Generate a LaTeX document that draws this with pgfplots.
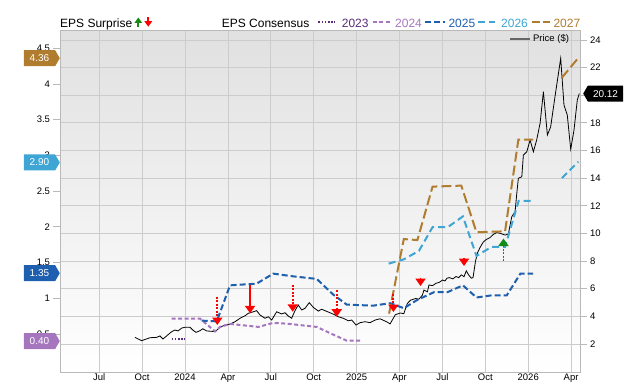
\documentclass[border=0pt]{standalone}
\usepackage{fontspec}
\setmainfont{Liberation Sans}
\usepackage{pgfplots}
\pgfplotsset{compat=1.18}
\usetikzlibrary{arrows.meta,shapes.symbols}
\definecolor{c23}{RGB}{88,44,120}
\definecolor{c24}{RGB}{165,118,190}
\definecolor{c25}{RGB}{30,95,175}
\definecolor{c26}{RGB}{62,165,212}
\definecolor{c27}{RGB}{176,124,46}
\definecolor{gridc}{RGB}{204,204,204}
\definecolor{axc}{RGB}{185,185,185}
\definecolor{upg}{RGB}{20,140,20}
\newcommand\tf{\fontsize{9.5}{11}\selectfont}
\newcommand\hf{\fontsize{12}{14}\selectfont}
\pgfplotsset{
  base/.style={at={(60pt,9.5pt)}, anchor=south west, scale only axis,
    width=520pt, height=341.8pt, xmin=3.26, xmax=39.62,
    /pgf/number format/assume math mode=true,
    tick label style={font=\tf, black},
    tick style={axc, line width=0.8pt}, major tick length=6.5pt, tick align=outside,
    axis line style={axc, line width=0.8pt}},
  pricelim/.style={ymin=-0.065, ymax=24.67},
  epslim/.style={ymin=-0.04, ymax=4.745},
}
\begin{document}
\begin{tikzpicture}[x=1pt,y=1pt]
\path[use as bounding box] (0,0) rectangle (640,382);
% ---------- price axis (right) ----------
\begin{axis}[base, pricelim,
  axis background/.style={top color=black!12, middle color=white, bottom color=white},
  ytick={2,4,...,24}, ytick pos=right, yticklabel pos=right,
  xtick={6,9,...,39}, xticklabels={Jul,Oct,2024,Apr,Jul,Oct,2025,Apr,Jul,Oct,2026,Apr},
  xtick pos=bottom, major x tick style={draw=none},
  xticklabel style={yshift=9pt},
  xmajorgrids, ymajorgrids, grid style={gridc, line width=0.8pt},
  legend style={draw=none, fill=none, at={(0.985,0.997)}, anchor=north east, font=\tf, inner sep=1pt},
  legend image code/.code={\draw[black!60, line width=1.5pt] (0pt,0pt) -- (20pt,0pt);},
]
\addplot[black, line width=0.8pt] table[x=m, y=p] {
m p
8.50 2.48
8.97 2.24
9.55 2.45
10.02 2.48
10.25 2.58
10.46 2.36
11.07 2.89
11.30 3.01
11.51 2.94
11.77 3.15
12.00 3.21
12.35 3.21
12.54 3.01
12.77 2.84
13.05 2.96
13.24 3.10
13.52 2.94
13.80 2.92
14.10 2.89
14.45 3.21
14.80 3.37
15.15 3.44
15.50 3.61
15.85 3.86
16.20 4.04
16.43 4.22
16.78 4.33
17.01 4.41
17.24 4.10
17.59 3.86
17.83 3.97
18.06 3.73
18.41 4.33
18.76 4.17
18.99 4.26
19.22 4.02
19.46 3.86
19.69 4.41
19.92 4.82
20.16 4.46
20.39 4.58
20.69 4.99
20.97 4.65
21.32 4.38
21.56 4.51
21.86 4.38
22.14 4.26
22.49 4.10
22.72 3.97
23.07 3.86
23.42 3.68
23.66 3.73
23.96 3.37
24.24 3.54
24.59 3.61
24.94 3.54
25.29 3.73
25.64 3.82
26.13 3.59
26.34 3.45
26.71 4.12
27.06 4.24
27.30 4.19
27.54 4.92
27.77 5.17
28.13 5.29
28.36 5.24
28.60 5.54
28.71 5.90
28.95 5.77
29.06 6.27
29.31 6.22
29.55 6.39
29.78 6.46
30.01 6.63
30.18 6.56
30.32 6.76
30.49 6.80
30.73 6.71
30.95 6.88
31.13 6.80
31.32 7.00
31.51 6.87
31.67 7.29
31.83 7.00
32.02 6.76
32.14 6.80
32.31 7.97
32.45 8.59
32.62 8.96
32.85 9.37
33.08 9.57
33.32 9.69
33.56 9.93
33.79 10.06
34.03 10.01
34.38 9.88
34.61 9.96
34.85 11.21
35.08 11.57
35.20 12.90
35.31 13.99
35.55 14.10
35.66 15.67
35.90 15.91
36.13 16.76
36.36 15.91
36.59 16.76
36.83 17.97
37.06 20.25
37.34 17.12
37.57 17.72
37.87 19.89
38.27 22.67
38.50 19.29
38.73 18.57
38.97 16.09
39.20 17.48
39.43 19.65
39.57 20.12
};
\addlegendentry{Price (\$)}
\end{axis}
% ---------- EPS axis (left) ----------
\begin{axis}[base, epslim, hide x axis, axis y line*=left, ytick pos=left,
  ytick={0.5,1,...,4.5}, clip=false]
\addplot[c23, line width=2pt, dash pattern=on 1.6pt off 1.6pt] table[x=m,y=e] {
m e
11.07 0.43
12.00 0.43
};
\addplot[c24, line width=2pt, dash pattern=on 4pt off 2.5pt] table[x=m,y=e] {
m e
11.07 0.714
13.05 0.714
14.10 0.536
14.45 0.598
15.15 0.640
16.78 0.606
17.13 0.598
18.17 0.654
19.11 0.644
21.21 0.598
22.37 0.490
23.31 0.406
24.24 0.406
};
\addplot[c25, line width=2pt, dash pattern=on 6pt off 3pt] table[x=m,y=e] {
m e
13.17 0.686
14.22 0.676
15.15 1.180
17.01 1.204
18.17 1.344
19.57 1.306
21.21 1.270
22.37 1.050
23.31 0.910
25.17 0.896
25.64 0.910
26.36 0.930
27.30 0.860
28.25 0.977
29.43 1.086
30.37 1.086
31.43 1.180
32.38 1.010
33.44 1.040
34.50 1.040
35.45 1.344
36.35 1.344
};
\addplot[c26, line width=2pt, dash pattern=on 7pt off 4pt] table[x=m,y=e] {
m e
26.24 1.484
27.30 1.544
28.36 1.663
29.31 1.994
30.37 1.994
31.43 2.145
32.38 1.592
33.44 1.719
34.38 1.719
35.33 2.363
36.35 2.363
};
\addplot[c26, line width=2pt, dash pattern=on 7pt off 4pt] table[x=m,y=e] {
m e
38.36 2.682
39.50 2.912
};
\addplot[c27, line width=2pt, dash pattern=on 10pt off 4pt] table[x=m,y=e] {
m e
26.27 0.784
27.30 1.828
28.25 1.814
29.31 2.562
31.32 2.576
32.38 1.924
34.38 1.936
35.31 3.220
36.35 3.220
};
\addplot[c27, line width=2pt, dash pattern=on 10pt off 4pt] table[x=m,y=e] {
m e
38.34 4.084
39.50 4.364
};
\tikzset{flag/.style={signal, signal to=east, signal pointer angle=120, text=white,
  font=\fontsize{10}{12}\selectfont, minimum height=16pt, minimum width=36pt, inner sep=1pt, anchor=east}}
\node[flag, fill=c27] at (axis cs:3.26,4.36) {4.36};
\node[flag, fill=c26] at (axis cs:3.26,2.90) {2.90};
\node[flag, fill=c25] at (axis cs:3.26,1.35) {1.35};
\node[flag, fill=c24] at (axis cs:3.26,0.40) {0.40};
\end{axis}
% ---------- EPS surprise arrows (price scale) ----------
\begin{axis}[base, pricelim, hide x axis, hide y axis, clip=false]
\addplot[red, line width=1.8pt, dash pattern=on 2pt off 1.5pt, -{Triangle[width=10pt,length=7.5pt]},
  quiver={u=0, v=\thisrow{dy}}] table[x=m, y=p] {
m p dy
14.26 5.42 -2.05
19.53 6.27 -1.94
22.61 5.90 -1.93
26.57 5.61 -1.30
28.47 6.80 -0.61
31.51 8.23 -0.59
};
\addplot[red, line width=1.8pt, -{Triangle[width=10pt,length=7.5pt]},
  quiver={u=0, v=\thisrow{dy}}] table[x=m, y=p] {
m p dy
16.55 6.27 -2.05
};
\addplot[upg, line width=1.8pt, dash pattern=on 2pt off 1.5pt, -{Triangle[width=10pt,length=7.5pt]},
  quiver={u=0, v=\thisrow{dy}}] table[x=m, y=p] {
m p dy
34.27 8.00 1.63
};
\node[signal, signal to=west, signal pointer angle=120, fill=black, text=white,
  font=\fontsize{10}{12}\selectfont, minimum height=16pt, minimum width=40pt, inner sep=1pt,
  anchor=west, xshift=3pt] at (axis cs:39.62,20.12) {20.12};
\end{axis}
% ---------- header ----------
\node[anchor=base west, inner sep=0, font=\hf] at (60,354.7) {EPS Surprise};
\draw[upg, line width=2.2pt, -{Triangle[width=7.5pt,length=5.5pt]}] (138.3,355.3) -- (138.3,364.5);
\draw[red, line width=2.2pt, -{Triangle[width=7.5pt,length=5.5pt]}] (148.3,364.5) -- (148.3,355.3);
\node[anchor=base west, inner sep=0, font=\hf] at (221.7,354.7) {EPS Consensus};
\draw[c23, line width=2pt, dash pattern=on 1.6pt off 1.6pt] (318.3,359.5) -- (335,359.5);
\node[anchor=base west, inner sep=0, font=\hf, text=c23] at (341.7,354.7) {2023};
\draw[c24, line width=2pt, dash pattern=on 4pt off 2.5pt] (372.7,359.5) -- (391.7,359.5);
\node[anchor=base west, inner sep=0, font=\hf, text=c24] at (395,354.7) {2024};
\draw[c25, line width=2pt, dash pattern=on 6pt off 3pt] (425.3,359.5) -- (445,359.5);
\node[anchor=base west, inner sep=0, font=\hf, text=c25] at (448.3,354.7) {2025};
\draw[c26, line width=2pt, dash pattern=on 7pt off 4pt] (478.3,359.5) -- (495,359.5);
\node[anchor=base west, inner sep=0, font=\hf, text=c26] at (501,354.7) {2026};
\draw[c27, line width=2pt, dash pattern=on 8pt off 3pt] (531.7,359.5) -- (550,359.5);
\node[anchor=base west, inner sep=0, font=\hf, text=c27] at (553.3,354.7) {2027};
\end{tikzpicture}
\end{document}
